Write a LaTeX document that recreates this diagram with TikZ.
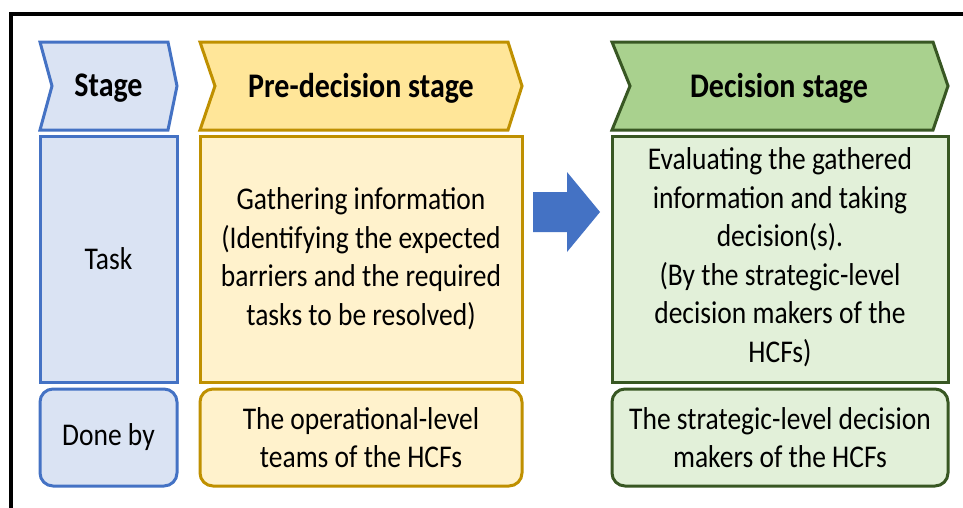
\documentclass[tikz,border=0pt]{standalone}
\usepackage{fontspec}
\setmainfont{Carlito}
\definecolor{bstroke}{HTML}{4472C4}
\definecolor{bfill}{HTML}{DAE3F3}
\definecolor{ystroke}{HTML}{BF9000}
\definecolor{yhead}{HTML}{FFE699}
\definecolor{yfill}{HTML}{FFF2CC}
\definecolor{gstroke}{HTML}{385723}
\definecolor{ghead}{HTML}{A9D18E}
\definecolor{gfill}{HTML}{E2F0D9}
\begin{document}
\begin{tikzpicture}[x=1pt,y=-1pt,
  shp/.style={line width=3pt, line join=miter},
  headtxt/.style={font=\fontsize{30}{36}\selectfont\bfseries, inner sep=0pt, yscale=1.15, transform shape},
  bodytxt/.style={font=\fontsize{27.5}{33.5}\selectfont, align=center, inner sep=0pt, yscale=1.15, transform shape},
  taskbox/.style={shp, minimum height=246pt, inner sep=0pt},
  donebox/.style={shp, rounded corners=13pt, minimum height=97pt, inner sep=0pt},
]
\useasboundingbox (0,0) rectangle (963,507);
\fill[white] (0,0) rectangle (963,507);
% frame
\draw[line width=3.5pt] (11,530) -- (11,14) -- (990,14);

% headers (chevrons)
\draw[shp, draw=bstroke, fill=bfill] (40,42) -- (168,42) -- (177,86) -- (168,130) -- (40,130) -- (52,86) -- cycle;
\draw[shp, draw=ystroke, fill=yhead] (200,42) -- (508,42) -- (522,86) -- (508,130) -- (200,130) -- (215,86) -- cycle;
\draw[shp, draw=gstroke, fill=ghead] (612,42) -- (933,42) -- (948,86) -- (933,130) -- (612,130) -- (630,86) -- cycle;
\node[headtxt] (hstage) at (108.5,88) {Stage};
\node[headtxt] (hpre) at (361,88) {Pre-decision stage};
\node[headtxt] (hdec) at (779,88) {Decision stage};

% task row
\node[taskbox, draw=bstroke, fill=bfill, minimum width=137pt] (tstage) at (108.5,259) {};
\node[taskbox, draw=ystroke, fill=yfill, minimum width=322pt] (tpre) at (361,259) {};
\node[taskbox, draw=gstroke, fill=gfill, minimum width=336pt] (tdec) at (780,259) {};
\node[bodytxt] (ttask) at (tstage.center) {Task};
\node[bodytxt] (tpretxt) at (361,258.5) {Gathering information\\(Identifying the expected\\barriers and the required\\tasks to be resolved)};
\node[bodytxt] (tdectxt) at (780,257) {Evaluating the gathered\\information and taking\\decision(s).\\(By the strategic-level\\decision makers of the\\HCFs)};

% done-by row
\node[donebox, draw=bstroke, fill=bfill, minimum width=137pt] (dstage) at (108.5,437.5) {};
\node[donebox, draw=ystroke, fill=yfill, minimum width=322pt] (dpre) at (361,437.5) {};
\node[donebox, draw=gstroke, fill=gfill, minimum width=336pt] (ddec) at (780,437.5) {};
\node[bodytxt] (dtxt) at (dstage.center) {Done by};
\node[bodytxt] (dpretxt) at (dpre.center) {The operational-level\\teams of the HCFs};
\node[bodytxt] (ddectxt) at (ddec.center) {The strategic-level decision\\makers of the HCFs};

% block arrow
\fill[bstroke] (533,192) -- (567,192) -- (567,172) -- (600,212) -- (567,252) -- (567,232) -- (533,232) -- cycle;
\end{tikzpicture}
\end{document}
